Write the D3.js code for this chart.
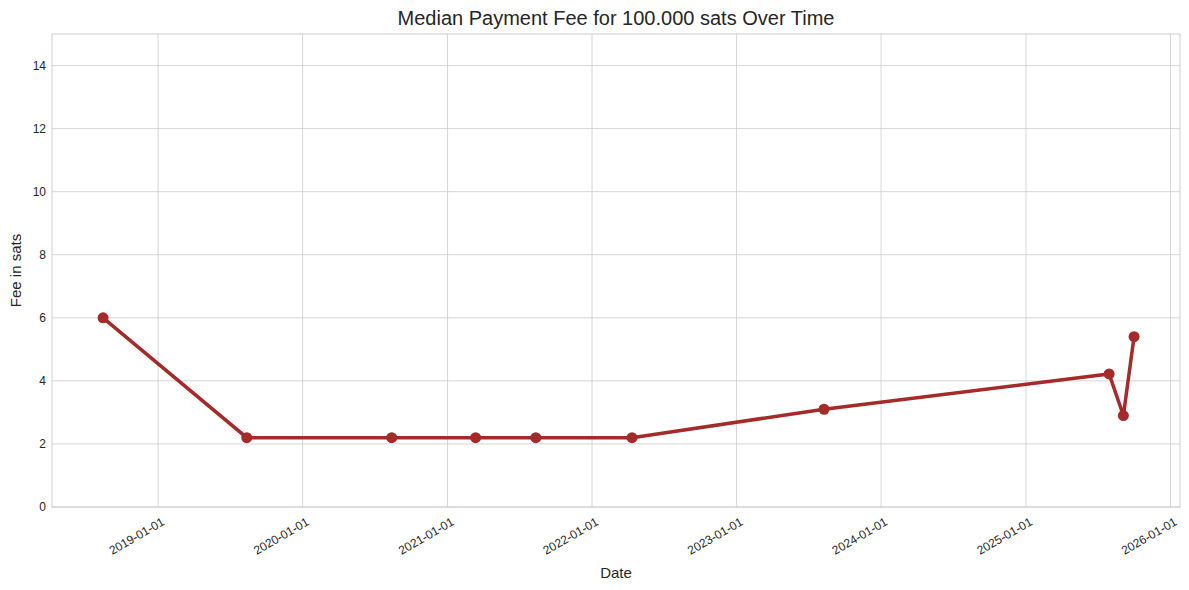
<!DOCTYPE html>
<html><head><meta charset="utf-8">
<script src="https://cdn.jsdelivr.net/npm/d3@7/dist/d3.min.js"></script>
<style>body{margin:0;background:#fff;font-family:Arial,"Liberation Sans",sans-serif}</style>
</head><body><svg id="c" width="1189" height="590"></svg>
<script>
const dates = ["2018-08-15","2019-08-13","2020-08-13","2021-03-13","2021-08-12","2022-04-12","2023-08-10","2025-07-30","2025-09-04","2025-10-01"];
const fees = [6.0,2.2,2.2,2.2,2.2,2.2,3.1,4.22,2.9,5.4];
const yTicks = [0,2,4,6,8,10,12,14];
const xTickLabels = ["2019-01-01","2020-01-01","2021-01-01","2022-01-01","2023-01-01","2024-01-01","2025-01-01","2026-01-01"];

const p = d3.timeParse("%Y-%m-%d");
const data = dates.map((d,i)=>({d:p(d),v:fees[i]}));
const L=52,R=1180,T=34,B=507;
const svg=d3.select("#c");
const x=d3.scaleTime().domain([p("2018-04-08"),p("2026-01-25")]).range([L,R]);
const y=d3.scaleLinear().domain([0,15]).range([B,T]);
const g=svg.append("g");
xTickLabels.forEach(t=>{const xx=x(p(t));
 g.append("line").attr("x1",xx).attr("x2",xx).attr("y1",T).attr("y2",B).attr("stroke","#cccccc").attr("stroke-width",0.8);
 g.append("text").attr("transform",`translate(${xx+3},${B+10}) rotate(-30)`).attr("text-anchor","end").attr("dy","0.7em").attr("font-size",12).attr("fill","#262626").text(t);
});
yTicks.forEach(t=>{const yy=y(t);
 g.append("line").attr("x1",L).attr("x2",R).attr("y1",yy).attr("y2",yy).attr("stroke","#cccccc").attr("stroke-width",0.8);
 g.append("text").attr("x",L-6).attr("y",yy).attr("dy","0.35em").attr("text-anchor","end").attr("font-size",12).attr("fill","#262626").text(t);
});
g.append("rect").attr("x",L).attr("y",T).attr("width",R-L).attr("height",B-T).attr("fill","none").attr("stroke","#cccccc").attr("stroke-width",1);
const line=d3.line().x(d=>x(d.d)).y(d=>y(d.v));
svg.append("path").datum(data).attr("d",line).attr("fill","none").attr("stroke","#a52a2a").attr("stroke-width",3.5);
svg.selectAll("circle").data(data).join("circle").attr("cx",d=>x(d.d)).attr("cy",d=>y(d.v)).attr("r",5.5).attr("fill","#a52a2a");
svg.append("text").attr("x",(L+R)/2).attr("y",25).attr("text-anchor","middle").attr("font-size",20).attr("fill","#262626").text("Median Payment Fee for 100.000 sats Over Time");
svg.append("text").attr("x",(L+R)/2).attr("y",578).attr("text-anchor","middle").attr("font-size",15).attr("fill","#262626").text("Date");
svg.append("text").attr("transform",`translate(21,${(T+B)/2}) rotate(-90)`).attr("text-anchor","middle").attr("font-size",15).attr("fill","#262626").text("Fee in sats");
</script></body></html>
